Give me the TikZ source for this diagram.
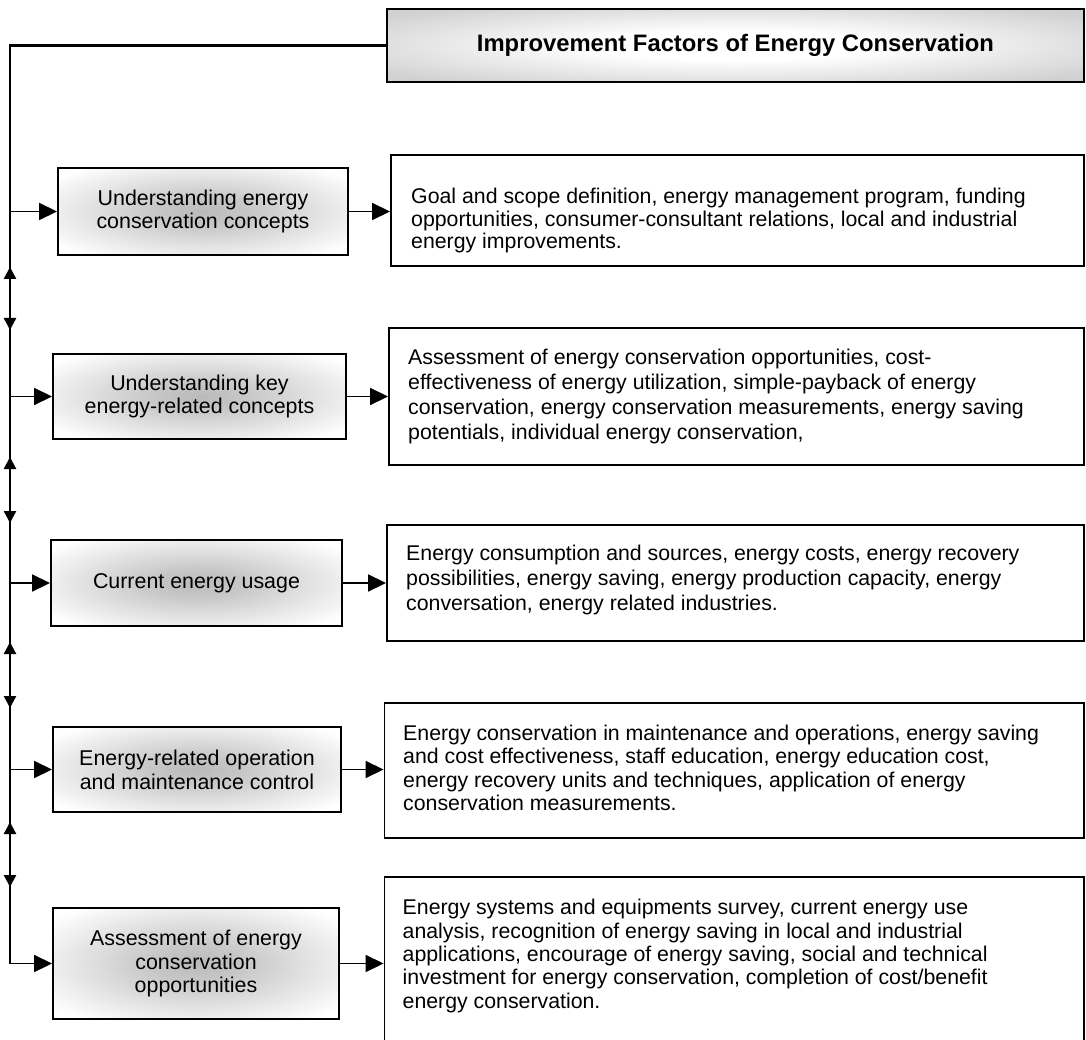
\documentclass[tikz,border=0pt]{standalone}
\usepackage{fontspec}
\setmainfont{Liberation Sans}
\usetikzlibrary{arrows.meta}
\pgfdeclareradialshading{glowbox}{\pgfpoint{0bp}{0bp}}{color(0bp)=(black!27); color(8bp)=(black!22); color(32bp)=(white); color(50bp)=(white)}
\pgfdeclareradialshading{titleglow}{\pgfpoint{0bp}{0bp}}{color(0bp)=(white); color(10bp)=(white); color(32bp)=(black!18); color(50bp)=(black!18)}
\begin{document}
\begin{tikzpicture}[x=1pt,y=-1pt,
  leftbox/.style={draw, line width=1.9pt, shading=glowbox, align=center, inner sep=0pt,
    font=\fontsize{21.4}{23.8}\selectfont},
  rightbox/.style={draw, line width=1.9pt, fill=white, inner sep=0pt},
  rtext/.style={anchor=west, align=left, inner sep=0pt},
  titlebox/.style={draw, line width=2.6pt, shading=titleglow, inner sep=0pt,
    font=\bfseries\fontsize{23.8}{28}\selectfont},
  spine/.style={line width=2.3pt},
  harr/.style={line width=1.8pt, -{Triangle[length=18pt,width=17pt]}},
  varr/.style={line width=2.3pt, {Triangle[length=12pt,width=12pt]}-{Triangle[length=12pt,width=12pt]}}
]
\clip (0,0) rectangle (1086,1040);
\fill[white] (0,0) rectangle (1086,1040);

% title
\node[titlebox, minimum width=697pt, minimum height=73pt] (title) at (735.5,45.5) {Improvement Factors of Energy Conservation};

% left boxes
\node[leftbox, minimum width=290pt, minimum height=87pt] (L1) at (203,211.5) {Understanding energy\\conservation concepts};
\node[leftbox, minimum width=293pt, minimum height=85pt] (L2) at (199.5,396.5) {Understanding key\\energy-related concepts};
\node[leftbox, minimum width=291pt, minimum height=86pt] (L3) at (196.5,583) {Current energy usage};
\node[leftbox, minimum width=288pt, minimum height=85pt] (L4) at (197,769.5) {Energy-related operation\\and maintenance control};
\node[leftbox, minimum width=286pt, minimum height=111pt] (L5) at (196,963.5) {Assessment of energy\\conservation\\opportunities};

% right boxes
\node[rightbox, minimum width=693pt, minimum height=111pt] (R1) at (737.5,210.5) {};
\node[rightbox, minimum width=695pt, minimum height=137pt] (R2) at (736.5,396.5) {};
\node[rightbox, minimum width=697pt, minimum height=116pt] (R3) at (735.5,583) {};
\node[rightbox, minimum width=699.5pt, minimum height=135pt] (R4) at (734.25,770.5) {};
\node[rightbox, minimum width=699.5pt, minimum height=183pt] (R5) at (734.25,968.5) {};

% right texts
\node[rtext, font=\fontsize{21.3}{22.7}\selectfont] (T1) at (411,220.5) {Goal and scope definition, energy management program, funding\\opportunities, consumer-consultant relations, local and industrial\\energy improvements.};
\node[rtext, font=\fontsize{21.3}{25}\selectfont] (T2) at (408,396.5) {Assessment of energy conservation opportunities, cost-\\effectiveness of energy utilization, simple-payback of energy\\conservation, energy conservation measurements, energy saving\\potentials, individual energy conservation,};
\node[rtext, font=\fontsize{21.3}{25}\selectfont] (T3) at (406,580) {Energy consumption and sources, energy costs, energy recovery\\possibilities, energy saving, energy production capacity, energy\\conversation, energy related industries.};
\node[rtext, font=\fontsize{21.3}{23.5}\selectfont] (T4) at (403,768) {Energy conservation in maintenance and operations, energy saving\\and cost effectiveness, staff education, energy education cost,\\energy recovery units and techniques, application of energy\\conservation measurements.};
\node[rtext, font=\fontsize{21.3}{23.3}\selectfont] (T5) at (402.5,956) {Energy systems and equipments survey, current energy use\\analysis, recognition of energy saving in local and industrial\\applications, encourage of energy saving, social and technical\\investment for energy conservation, completion of cost/benefit\\energy conservation.};

% spine
\coordinate (sb) at (10,963.5);
\draw[spine] (title.west) -| (sb);
\draw[harr] (sb) -- (L5.west);
\foreach \i in {1,2,3,4} {
  \draw[harr] (L\i.west -| sb) -- (L\i.west);
}
\foreach \i in {1,2,3,4,5} {
  \draw[harr] (L\i.east) -- (L\i.east -| R\i.west);
}

% spine double arrows
\coordinate (u1) at (10,267); \coordinate (d1) at (10,330);
\coordinate (u2) at (10,457); \coordinate (d2) at (10,523);
\coordinate (u3) at (10,642); \coordinate (d3) at (10,708);
\coordinate (u4) at (10,822); \coordinate (d4) at (10,887);
\foreach \i in {1,2,3,4} {
  \draw[varr] (u\i) -- (d\i);
}
\end{tikzpicture}
\end{document}
